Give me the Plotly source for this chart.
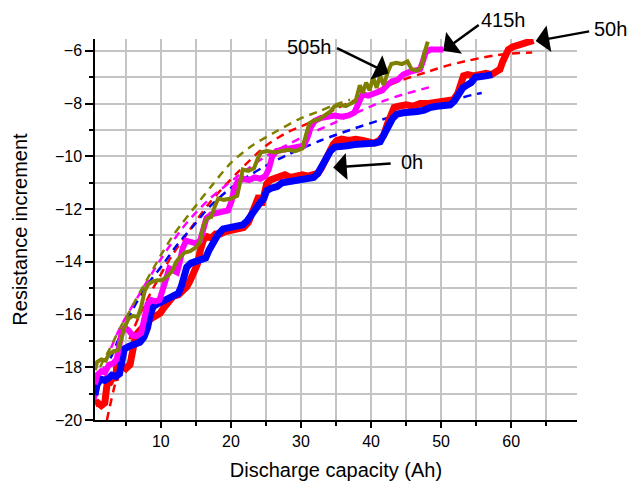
import plotly.graph_objects as go

# ---- measured resistance increment vs. discharge capacity ----
cap_0h = [0.6, 0.9, 1.4, 2.0, 2.6, 3.0, 3.6, 4.1, 4.4, 4.8, 5.5, 6.2, 7.0, 7.6, 8.1, 8.5, 8.9, 9.5,
          10.2, 11.0, 11.8, 12.5, 12.9, 13.3, 13.7, 14.3, 15.0, 15.8, 16.4, 16.9, 17.5, 18.2, 18.9,
          19.8, 20.8, 21.7, 22.3, 22.9, 23.5, 24.2, 24.7, 25.1, 25.8, 26.6, 27.3, 28.2, 29.0, 30.0,
          31.0, 31.8, 32.4, 33.0, 33.6, 34.2, 34.8, 35.6, 36.6, 37.6, 38.6, 39.6, 40.6, 41.3, 41.9,
          42.5, 43.1, 43.7, 44.6, 45.6, 46.6, 47.6, 48.4, 49.4, 50.4, 51.3, 51.9, 52.5, 53.1, 53.7,
          54.3, 54.9, 55.6, 56.4, 57.3]
res_0h = [-19.05, -18.65, -18.45, -18.5, -18.4, -18.3, -18.35, -18.25, -17.8, -17.3, -17.2, -17.15,
          -17.05, -16.85, -16.5, -16.0, -15.7, -15.6, -15.5, -15.4, -15.3, -15.2, -14.95, -14.55,
          -14.2, -14.05, -14.0, -13.95, -13.85, -13.55, -13.2, -12.95, -12.75, -12.7, -12.6, -12.6,
          -12.45, -12.2, -11.95, -11.75, -11.6, -11.3, -11.2, -11.15, -11.0, -10.95, -10.9, -10.9,
          -10.85, -10.8, -10.65, -10.35, -10.05, -9.8, -9.65, -9.6, -9.6, -9.55, -9.55, -9.55, -9.5,
          -9.45, -9.2, -8.85, -8.55, -8.4, -8.35, -8.35, -8.3, -8.25, -8.15, -8.1, -8.1, -8.05, -7.9,
          -7.65, -7.4, -7.3, -7.2, -7.0, -6.95, -6.95, -6.9]

cap_50h = [0.6, 1.0, 1.5, 2.0, 2.2, 2.4, 2.8, 3.2, 3.5, 3.7, 4.3, 5.0, 5.6, 5.9, 6.1, 6.4, 7.0, 7.6,
           8.0, 8.8, 9.5, 9.9, 10.4, 11.0, 11.8, 12.5, 13.2, 13.7, 14.2, 14.7, 15.2, 15.7, 16.1,
           16.6, 17.2, 17.8, 18.5, 19.2, 20.0, 21.0, 21.8, 22.5, 23.0, 23.5, 24.0, 24.4, 24.7, 25.1,
           25.6, 26.3, 27.0, 27.7, 28.5, 29.3, 30.2, 31.0, 31.8, 32.4, 32.9, 33.4, 34.0, 34.6, 35.1,
           35.8, 36.8, 37.8, 38.8, 39.6, 40.4, 41.2, 41.8, 42.3, 42.8, 43.3, 44.0, 45.0, 46.0, 47.0,
           48.0, 49.0, 50.0, 51.0, 51.8, 52.4, 52.8, 53.2, 53.8, 54.6, 55.5, 56.4, 57.2, 57.8, 58.4,
           58.8, 59.2, 59.6, 60.2, 61.0, 61.8, 62.5, 63.2]
res_50h = [-19.4, -19.35, -19.45, -19.35, -18.9, -18.5, -18.55, -18.35, -18.5, -18.0, -17.9, -18.05,
           -17.9, -17.5, -16.95, -16.8, -16.6, -16.45, -16.25, -16.15, -16.05, -15.95, -15.75,
           -15.55, -15.3, -15.25, -15.1, -14.95, -14.7, -14.45, -14.1, -13.5, -13.15, -13.05, -13.1,
           -12.95, -12.95, -12.85, -12.8, -12.75, -12.7, -12.5, -12.15, -11.75, -11.5, -11.85,
           -11.6, -11.05, -10.9, -10.85, -10.8, -10.7, -10.8, -10.75, -10.7, -10.75, -10.7, -10.65,
           -10.45, -10.2, -9.8, -9.55, -9.4, -9.35, -9.4, -9.35, -9.4, -9.45, -9.5, -9.4, -9.2,
           -8.8, -8.4, -8.15, -8.1, -8.05, -8.1, -8.0, -8.0, -7.95, -7.95, -7.9, -7.85, -7.6, -7.2,
           -6.95, -6.9, -6.95, -6.9, -6.85, -6.9, -6.8, -6.7, -6.4, -6.1, -5.95, -5.85, -5.8, -5.7,
           -5.65, -5.6]

cap_415h = [0.6, 0.9, 1.5, 2.0, 2.6, 3.2, 3.7, 4.0, 4.4, 4.9, 5.4, 6.0, 6.6, 7.2, 7.6, 8.1, 8.6,
            9.2, 9.8, 10.3, 10.8, 11.2, 11.7, 12.3, 12.7, 13.1, 13.6, 14.3, 15.0, 15.6, 16.0, 16.5,
            17.2, 18.0, 18.8, 19.6, 20.1, 20.5, 21.0, 21.8, 22.6, 23.4, 24.2, 24.9, 25.4, 25.9,
            26.5, 27.4, 28.4, 29.4, 30.4, 30.9, 31.4, 32.0, 32.8, 33.8, 34.8, 35.8, 36.8, 37.6,
            38.2, 38.8, 39.6, 40.6, 41.6, 42.3, 43.0, 43.8, 44.6, 45.5, 46.4, 47.0, 47.4, 47.8,
            48.5, 49.4, 50.3]
res_415h = [-18.65, -18.3, -18.15, -18.2, -17.9, -17.85, -17.7, -17.3, -16.7, -16.5, -16.6, -16.8,
            -16.8, -16.7, -16.2, -15.6, -15.45, -15.5, -15.45, -15.1, -14.6, -14.25, -14.35,
            -14.4, -14.0, -13.5, -13.2, -13.25, -13.3, -13.2, -12.8, -12.35, -12.2, -12.15, -12.1,
            -12.05, -11.7, -11.2, -10.95, -10.85, -10.9, -10.8, -10.85, -10.75, -10.5, -10.0, -9.8,
            -9.75, -9.7, -9.65, -9.6, -9.3, -8.9, -8.65, -8.55, -8.5, -8.45, -8.5, -8.45, -8.35,
            -7.95, -7.65, -7.7, -7.6, -7.5, -7.3, -7.15, -7.1, -6.9, -6.8, -6.75, -6.7, -6.4, -6.05,
            -5.95, -5.95, -5.95]

cap_505h = [0.6, 0.9, 1.5, 2.1, 2.6, 3.2, 3.9, 4.3, 4.8, 5.4, 6.0, 6.7, 7.2, 7.7, 8.2, 8.8, 9.5,
            10.2, 10.9, 11.6, 12.2, 12.8, 13.4, 14.2, 15.0, 15.6, 16.1, 16.6, 17.2, 17.7, 18.2,
            19.0, 20.0, 20.9, 21.3, 21.7, 22.5, 23.3, 23.8, 24.3, 25.2, 26.2, 27.2, 28.2, 29.2,
            30.2, 30.7, 31.2, 31.8, 32.6, 33.4, 34.2, 34.8, 35.6, 36.4, 37.2, 37.8, 38.4, 38.8,
            39.3, 39.8, 40.3, 40.8, 41.3, 41.8, 42.4, 42.9, 43.6, 44.4, 45.2, 45.8, 46.6, 47.2,
            47.6, 48.1]
res_505h = [-18.1, -17.8, -17.7, -17.75, -17.5, -17.4, -17.35, -16.9, -16.5, -16.15, -16.05,
            -16.1, -15.7, -15.1, -14.85, -14.75, -14.7, -14.7, -14.55, -14.35, -14.0, -13.8,
            -13.65, -13.6, -13.45, -13.25, -12.6, -12.35, -12.3, -11.9, -11.6, -11.65, -11.6,
            -11.5, -10.9, -10.5, -10.55, -10.45, -10.1, -9.85, -9.8, -9.85, -9.8, -9.75, -9.8, -9.7,
            -9.2, -8.75, -8.65, -8.6, -8.45, -8.3, -8.1, -8.05, -8.1, -8.0, -7.9, -7.3, -7.6, -7.2,
            -7.5, -7.0, -7.4, -6.95, -7.3, -6.8, -6.5, -6.45, -6.5, -6.4, -6.7, -6.75, -6.6, -6.1,
            -5.65]

# ---- fitted trend curves (dashed) ----
fit_cap_0h = [0.6, 1.5, 3.0, 4.5, 6.0, 8.0, 10.3, 12.2, 14.6, 17.0, 20.0, 22.5, 24.7, 28.0, 32.8,
              37.0, 41.0, 44.2, 48.0, 51.5, 54.6, 55.8]
fit_res_0h = [-19.15, -18.5, -17.55, -16.6, -15.8, -14.9, -14.1, -13.4, -12.65, -11.9, -11.2,
              -10.75, -10.4, -9.95, -9.4, -9.0, -8.65, -8.4, -8.1, -7.88, -7.66, -7.6]

fit_cap_50h = [2.3, 3.5, 5.0, 7.0, 9.0, 11.5, 13.7, 17.0, 21.0, 25.0, 28.0, 31.0, 35.0, 40.0,
               44.0, 48.0, 51.0, 53.7, 56.0, 58.0, 60.0, 63.0]
fit_res_50h = [-20.0, -18.6, -17.3, -16.0, -14.95, -13.8, -12.95, -11.75, -10.6, -9.6, -9.1,
               -8.75, -8.2, -7.6, -7.15, -6.8, -6.55, -6.38, -6.25, -6.16, -6.1, -6.06]

fit_cap_415h = [0.6, 2.0, 4.0, 7.0, 10.0, 13.0, 14.6, 17.0, 21.0, 25.0, 30.0, 35.0, 41.8, 45.0,
                48.5]
fit_res_415h = [-19.3, -17.9, -16.6, -15.2, -13.9, -12.75, -12.25, -11.6, -10.75, -10.0, -9.3,
                -8.7, -7.9, -7.62, -7.37]

fit_cap_505h = [0.6, 1.5, 2.7, 4.2, 5.6, 6.5, 8.4, 10.0, 11.5, 13.0, 15.5, 17.3, 20.0, 23.0,
                26.5, 29.9, 32.5, 34.7, 37.0]
fit_res_505h = [-18.5, -17.9, -17.3, -16.5, -15.85, -15.4, -14.5, -13.75, -13.1, -12.55, -11.7,
                -11.1, -10.25, -9.6, -9.05, -8.57, -8.3, -8.06, -7.85]

series = [
    ("50h", cap_50h, res_50h, fit_cap_50h, fit_res_50h, "#ff0000", 7),
    ("0h", cap_0h, res_0h, fit_cap_0h, fit_res_0h, "#0000ff", 7),
    ("415h", cap_415h, res_415h, fit_cap_415h, fit_res_415h, "#ff00ff", 6),
    ("505h", cap_505h, res_505h, fit_cap_505h, fit_res_505h, "#808000", 4),
]

# axis settings
x_range = [0.6, 69.4]
y_range = [-20, -5.55]
grid_col = "#c4c4c4"
font_family = "Liberation Sans, Arial, sans-serif"

# curve labels: (text, arrow tip x, arrow tip y, tail offset px, label pos in paper units)
labels = [
    ("505h", 42.5, -6.85, -53, -26, 0.446, 0.979),
    ("415h", 50.3, -6.0, 37, -27, 0.8465, 1.05),
    ("50h", 63.5, -5.63, 55, -10, 1.0705, 1.026),
    ("0h", 34.6, -10.42, 59, -4, 0.6577, 0.677),
]

fig = go.Figure()

for name, x, y, fx, fy, col, w in series:
    fig.add_trace(go.Scatter(x=fx, y=fy, mode="lines", showlegend=False,
                             line=dict(color=col, width=2.5, dash="8px,6px", shape="spline",
                                       smoothing=0.8)))

for name, x, y, fx, fy, col, w in series:
    fig.add_trace(go.Scatter(x=x, y=y, mode="lines", name=name, showlegend=False,
                             line=dict(color=col, width=w)))

for text, tx, ty, ax, ay, lx, ly in labels:
    fig.add_annotation(x=tx, y=ty, ax=ax, ay=ay, xref="x", yref="y",
                       text="", showarrow=True, arrowhead=1, arrowsize=1.8, arrowwidth=2.5,
                       arrowcolor="black")
    fig.add_annotation(x=lx, y=ly, xref="paper", yref="paper", text=text, showarrow=False,
                       xanchor="center", yanchor="middle",
                       font=dict(size=20, color="black", family=font_family))

fig.update_layout(
    width=629, height=485,
    margin=dict(l=95, r=52, t=39, b=65),
    paper_bgcolor="white", plot_bgcolor="white",
    font=dict(family=font_family, color="black", size=16),
    xaxis=dict(
        range=x_range, tick0=0, dtick=10, ticks="outside", ticklen=6, tickwidth=1.5,
        tickcolor="black", showline=True, linecolor="black", linewidth=1.5,
        showgrid=True, gridcolor=grid_col, gridwidth=2, zeroline=False, automargin=False,
        tickfont=dict(size=16),
        minor=dict(dtick=5, tick0=0, ticks="outside", ticklen=4, tickwidth=1.5,
                   tickcolor="black", showgrid=True, gridcolor=grid_col, gridwidth=2),
        title=dict(text="Discharge capacity (Ah)", font=dict(size=20), standoff=14),
    ),
    yaxis=dict(
        range=y_range, tick0=-20, dtick=2, ticks="outside", ticklen=8, tickwidth=1.5,
        tickcolor="black", showline=True, linecolor="black", linewidth=1.5,
        showgrid=True, gridcolor=grid_col, gridwidth=2, zeroline=False, automargin=False,
        tickfont=dict(size=16),
        minor=dict(dtick=1, tick0=-20, ticks="outside", ticklen=4, tickwidth=1.5,
                   tickcolor="black", showgrid=True, gridcolor=grid_col, gridwidth=2),
        title=dict(text="Resistance increment", font=dict(size=20), standoff=22),
    ),
)

fig.write_html("out.html")
